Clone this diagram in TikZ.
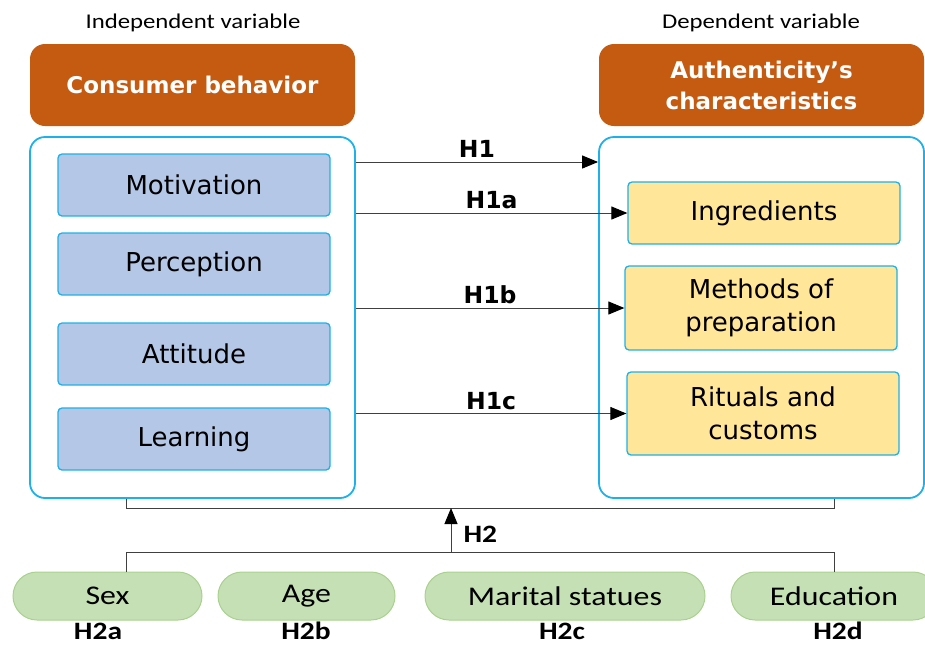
\documentclass[tikz,border=0pt]{standalone}
\usepackage{fontspec}
\setmainfont{DejaVu Sans}
\newfontfamily\calfont[FakeStretch=1.18]{Carlito}
\usetikzlibrary{arrows.meta,calc}
\definecolor{hdorange}{HTML}{C55A11}
\definecolor{boxcyan}{HTML}{1CB1EA}
\definecolor{ivblue}{HTML}{B4C7E7}
\definecolor{dvyellow}{HTML}{FFE699}
\definecolor{demgreen}{HTML}{C5E0B4}
\definecolor{demline}{HTML}{A9D18E}
\definecolor{linegray}{HTML}{404040}
\tikzset{
  header/.style={draw=none, fill=hdorange, rounded corners=15pt, text=white, align=center,
    minimum width=325pt, minimum height=82pt, inner sep=0pt, font=\bfseries\fontsize{23}{31}\selectfont},
  frame/.style={draw=boxcyan, line width=1.8pt, rounded corners=15pt, minimum width=325pt, minimum height=361pt},
  ivbox/.style={draw=boxcyan, line width=1.3pt, fill=ivblue, rounded corners=4pt, minimum width=272pt,
    minimum height=62pt, inner sep=0pt, font=\fontsize{26}{32}\selectfont},
  dvbox/.style={draw=boxcyan, line width=1.3pt, fill=dvyellow, rounded corners=4pt, minimum width=272pt,
    inner sep=0pt, align=center, font=\fontsize{26}{33}\selectfont},
  pill/.style={draw=demline, line width=1pt, fill=demgreen, rounded corners=24pt, minimum height=48pt,
    inner sep=0pt, font=\calfont\fontsize{27}{30}\selectfont},
  hlab/.style={font=\bfseries\fontsize{23.5}{26}\selectfont},
  hlabc/.style={font=\calfont\bfseries\fontsize{25}{28}\selectfont},
  varlab/.style={font=\calfont\fontsize{21}{24}\selectfont},
  conn/.style={draw=linegray, line width=1pt},
  arr/.style={conn, -{Triangle[length=16pt,width=13pt,color=black]}}
}
\begin{document}
\begin{tikzpicture}[x=1pt, y=-1pt]
    \useasboundingbox (0,0) rectangle (925,646);
    \node[varlab] (indep) at (193,23) {Independent variable};
    \node[varlab] (dep) at (761,23) {Dependent variable};
    \node[header] (cbhead) at (192.5,85) {Consumer behavior};
    \node[header] (achead) at (761.5,85) {Authenticity’s\\characteristics};
    \node[frame] (cbbox) at (192.5,317.5) {};
    \node[frame] (acbox) at (761.5,317.5) {};
    % consumer behavior
    \node[ivbox] (motiv) at (194,185) {Motivation};
    \node[ivbox] (percep) at (194,264) {Perception};
    \node[ivbox] (attit) at (194,354) {Attitude};
    \node[ivbox] (learn) at (194,439) {Learning};
    % authenticity
    \node[dvbox, minimum height=62pt] (ingr) at (764,213) {Ingredients};
    \node[dvbox, minimum height=84pt] (methods) at (761,308) {Methods of\\preparation};
    \node[dvbox, minimum height=83pt] (ritual) at (763,413.5) {Rituals and\\customs};
    % hypotheses H1
    \coordinate (h1y) at (0,162);
    \path[arr] (cbbox.east |- h1y) -- (acbox.west |- h1y) node[hlab, midway, above=1pt]{H1};
    \path[arr] (cbbox.east |- ingr.west) -- (ingr.west) node[hlab, pos=0.5, above=0pt]{H1a};
    \path[arr] (cbbox.east |- methods.west) -- (methods.west) node[hlab, pos=0.5, above=0pt]{H1b};
    \path[arr] (cbbox.east |- ritual.west) -- (ritual.west) node[hlab, pos=0.5, above=0pt]{H1c};
    % demographics
    \node[pill, minimum width=189pt] (sex) at (107.5,596) {Sex};
    \node[pill, minimum width=177pt] (age) at (306.5,596) {Age};
    \node[pill, minimum width=280pt] (marit) at (565,596) {Marital statues};
    \node[pill, minimum width=206pt] (edu) at (834,596) {Education};
    \node[hlabc] (h2a) at (98,631) {H2a};
    \node[hlabc] (h2b) at (306,631) {H2b};
    \node[hlabc] (h2c) at (562,631) {H2c};
    \node[hlabc] (h2d) at (838,631) {H2d};
    % hypothesis H2
    \coordinate (xl) at (126,0);
    \coordinate (xr) at (834,0);
    \coordinate (jtop) at (451,508);
    \coordinate (jbot) at (451,552);
    \path[conn] (cbbox.south -| xl) |- (jtop) -| (acbox.south -| xr);
    \path[conn] (sex.north -| xl) |- (jbot) -| (edu.north -| xr);
    \path[arr] (jbot) -- (jtop);
    \node[hlabc, anchor=west] (h2) at (460,534) {H2};
\end{tikzpicture}
\end{document}
